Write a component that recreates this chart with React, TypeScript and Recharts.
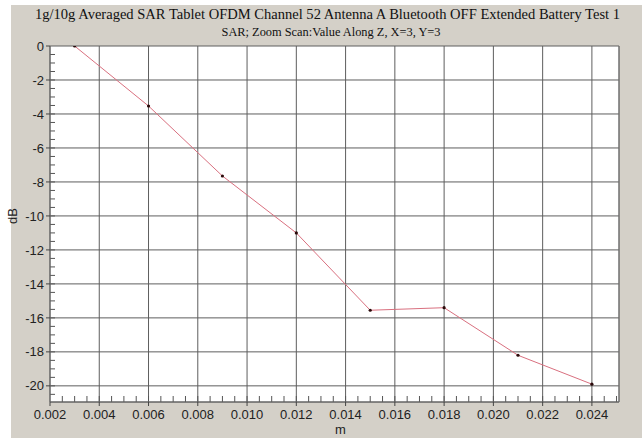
import React from 'react';
import { LineChart, Line, XAxis, YAxis, CartesianGrid, ReferenceLine } from 'recharts';

const titleLine1 = '1g/10g Averaged SAR Tablet OFDM Channel 52 Antenna A Bluetooth OFF Extended Battery Test 1';
const titleLine2 = 'SAR; Zoom Scan:Value Along Z, X=3, Y=3';
const xAxisLabel = 'm';
const yAxisLabel = 'dB';

const positions = [0.003, 0.006, 0.009, 0.012, 0.015, 0.018, 0.021, 0.024];
const dbValues = [0, -3.53, -7.65, -11.0, -15.55, -15.4, -18.2, -19.9];

const xTicks = [0.002, 0.004, 0.006, 0.008, 0.01, 0.012, 0.014, 0.016, 0.018, 0.02, 0.022, 0.024];
const yTicks = [0, -2, -4, -6, -8, -10, -12, -14, -16, -18, -20];
const xDomain = [0.002, 0.0251];
const yDomain = [-20.95, 0];
const xMinorTicks = Array.from({ length: 46 }, (_, i) => +(0.0025 + i * 0.0005).toFixed(4));
const yMinorTicks = Array.from({ length: 41 }, (_, i) => -(0.5 + i * 0.5));

const data = positions.map((m, i) => ({ m, db: dbValues[i] }));

// plot geometry (for minor tick lengths)
const plotW = 569;
const plotH = 356;
const xMinorLen = (6 / plotH) * (yDomain[1] - yDomain[0]);
const yMinorLen = (5 / plotW) * (xDomain[1] - xDomain[0]);

const sans = '"Liberation Sans", Arial, sans-serif';
const serif = '"Liberation Serif", "Times New Roman", serif';
const tickStyle = { fill: '#222', fontSize: 13, fontFamily: sans };

export default function App() {
  return (
    <div style={{ position: 'absolute', left: 0, top: 0, width: 642, height: 438, background: '#ffffff', overflow: 'hidden' }}>
      <div style={{ position: 'absolute', left: 11, top: 5, right: 0, bottom: 0, background: '#d4d0c8' }} />
      <div style={{ position: 'absolute', left: 0, top: 0 }}>
        <LineChart width={642} height={438} data={data} margin={{ top: 46, right: 23, bottom: 0, left: 0 }}>
          <CartesianGrid stroke="#5e5e5e" fill="#ffffff" fillOpacity={1} />
          <XAxis
            dataKey="m"
            type="number"
            domain={xDomain}
            allowDataOverflow
            ticks={xTicks}
            interval={0}
            height={36}
            tickSize={4}
            tickMargin={4}
            tick={tickStyle}
            tickFormatter={(v: number) => v.toFixed(3)}
            axisLine={{ stroke: '#666' }}
            tickLine={{ stroke: '#444' }}
            label={{ value: xAxisLabel, position: 'insideBottom', offset: 4, dx: 6, fill: '#222', fontSize: 13, fontFamily: sans }}
          />
          <YAxis
            type="number"
            domain={yDomain}
            allowDataOverflow
            ticks={yTicks}
            interval={0}
            width={50}
            tickSize={4}
            tickMargin={2}
            tick={tickStyle}
            axisLine={{ stroke: '#666' }}
            tickLine={{ stroke: '#444' }}
            label={{ value: yAxisLabel, angle: -90, position: 'insideLeft', offset: 12, fill: '#222', fontSize: 13, fontFamily: sans }}
          />
          {xMinorTicks.map((t) => (
            <ReferenceLine
              key={'xm' + t}
              segment={[{ x: t, y: yDomain[0] }, { x: t, y: yDomain[0] + xMinorLen }]}
              stroke="#555"
            />
          ))}
          {yMinorTicks.map((t) => (
            <ReferenceLine
              key={'ym' + t}
              segment={[{ x: xDomain[0], y: t }, { x: xDomain[0] + yMinorLen, y: t }]}
              stroke="#555"
            />
          ))}
          <ReferenceLine x={xDomain[1]} stroke="#777" />
          <Line
            type="linear"
            dataKey="db"
            stroke="#d9707f"
            strokeWidth={1}
            dot={{ r: 1.6, fill: '#2a0a0a', stroke: 'none' }}
            activeDot={false}
            isAnimationActive={false}
          />
        </LineChart>
      </div>
      <svg width={642} height={438} style={{ position: 'absolute', left: 0, top: 0, pointerEvents: 'none' }}>
        <text x={327.5} y={19} textAnchor="middle" fontFamily={serif} fontSize={14} fill="#111" textLength={585} lengthAdjust="spacingAndGlyphs">
          {titleLine1}
        </text>
        <text x={331} y={35.5} textAnchor="middle" fontFamily={serif} fontSize={12.5} fill="#111" textLength={219} lengthAdjust="spacingAndGlyphs">
          {titleLine2}
        </text>
      </svg>
    </div>
  );
}
